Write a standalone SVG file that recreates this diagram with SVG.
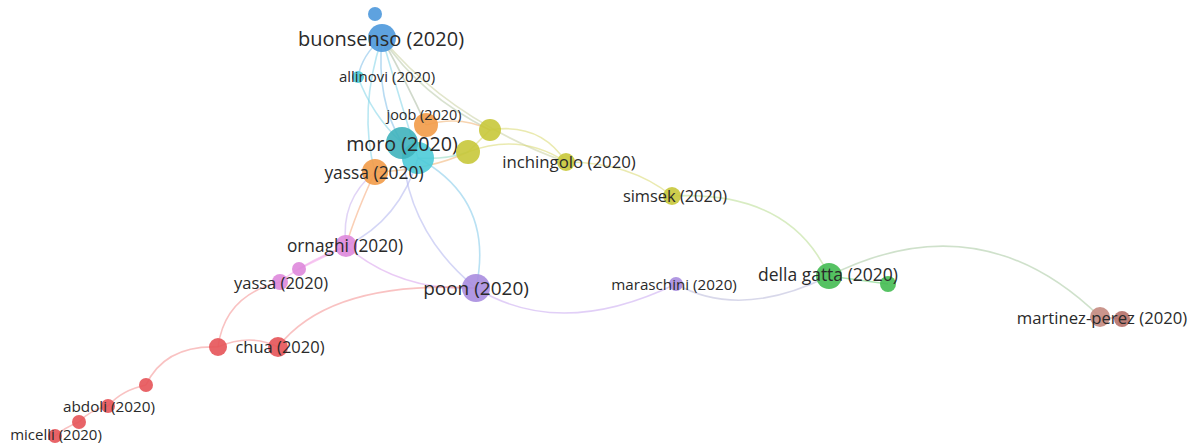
<svg xmlns="http://www.w3.org/2000/svg" width="1195" height="445" viewBox="0 0 1195 445">
<style>
  .e{fill:none;stroke-width:1.6;stroke-opacity:0.55}
  .lbl{font-family:"Open Sans","Liberation Sans",sans-serif;fill:#2a2a2a;text-anchor:middle;dominant-baseline:central}
  .n{fill-opacity:0.9}
  .blue{fill:#4d98dc}.cyan{fill:#4ccbd8}.orange{fill:#f29b48}.yellow{fill:#c8c83a}
  .pink{fill:#de88dc}.purple{fill:#a88ddf}.green{fill:#44bb52}.brown{fill:#c48a80}.red{fill:#e65358}
</style>
<rect width="1195" height="445" fill="#ffffff"/>
<g id="connectors">
  <path class="e" stroke="#7dbde8" d="M382,38 Q362,55 358,77"/>
  <path class="e" stroke="#7dbde8" d="M382,38 Q376,100 402,143"/>
  <path class="e" stroke="#7fd3e8" d="M382,38 Q400,100 418,158"/>
  <path class="e" stroke="#7fd3e8" d="M382,38 Q358,110 375,172"/>
  <path class="e" stroke="#a9b9a0" d="M382,38 Q408,85 426,125"/>
  <path class="e" stroke="#b8c8a8" d="M382,38 Q420,95 490,130"/>
  <path class="e" stroke="#c8d0a0" d="M382,38 Q450,120 566,162"/>
  <path class="e" stroke="#7fd3e8" d="M358,77 Q372,115 402,143"/>
  <path class="e" stroke="#f0b070" d="M426,125 Q460,115 490,130"/>
  <path class="e" stroke="#f0b070" d="M375,172 Q430,170 468,152"/>
  <path class="e" stroke="#8fd8c0" d="M418,158 Q445,160 468,152"/>
  <path class="e" stroke="#d8d870" d="M468,152 L490,130"/>
  <path class="e" stroke="#d8d870" d="M490,130 Q540,122 566,162"/>
  <path class="e" stroke="#d8d870" d="M468,152 Q520,132 566,162"/>
  <path class="e" stroke="#d8d870" d="M566,162 Q630,162 672,196"/>
  <path class="e" stroke="#b8dc90" d="M672,196 Q790,190 829,276"/>
  <path class="e" stroke="#7fc8ea" d="M418,158 Q495,200 476,288"/>
  <path class="e" stroke="#b0b4ee" d="M402,143 Q405,230 476,288"/>
  <path class="e" stroke="#b0b4ee" d="M418,158 Q400,220 346,246"/>
  <path class="e" stroke="#c8b0ee" d="M375,172 Q340,200 346,246"/>
  <path class="e" stroke="#f5a878" d="M375,172 Q355,215 346,246"/>
  <path class="e" stroke="#d8a0ec" d="M346,246 Q400,292 476,288"/>
  <path class="e" stroke="#c8a8f0" d="M476,288 Q560,340 676,284"/>
  <path class="e" stroke="#b8b8d8" d="M676,284 Q740,320 829,276"/>
  <path class="e" stroke="#66cc70" d="M829,276 L888,284"/>
  <path class="e" stroke="#a8c8a0" d="M829,276 Q980,200 1100,317"/>
  <path class="e" stroke="#c89890" d="M1100,317 L1122,319"/>
  <path class="e" stroke="#f0a0e8" d="M280,282 Q305,262 346,246"/>
  <path class="e" stroke="#f0a0e8" d="M299,269 L346,246"/>
  <path class="e" stroke="#f49090" d="M218,347 Q225,295 280,282"/>
  <path class="e" stroke="#f49090" d="M218,347 Q250,333 278,347"/>
  <path class="e" stroke="#f49090" d="M278,347 Q330,280 476,288"/>
  <path class="e" stroke="#f49090" d="M218,347 Q165,345 146,385"/>
  <path class="e" stroke="#f49090" d="M146,385 Q122,390 108,406"/>
  <path class="e" stroke="#f49090" d="M108,406 Q90,410 79,422"/>
  <path class="e" stroke="#f49090" d="M79,422 Q64,428 55,436"/>
</g>
<g id="n-buonsenso-small"><circle class="n blue" cx="375" cy="14" r="7"/></g>
<g id="n-buonsenso"><circle class="n blue" cx="382" cy="38" r="14"/><text class="lbl" x="381" y="38" font-size="20">buonsenso (2020)</text></g>
<g id="n-allinovi"><circle class="n cyan" cx="358" cy="77" r="6"/><text class="lbl" x="387" y="76" font-size="15">allinovi (2020)</text></g>
<g id="n-yellow1"><circle class="n yellow" cx="490" cy="130" r="11"/></g>
<g id="n-joob"><circle class="n orange" cx="426" cy="125" r="12"/><text class="lbl" x="424" y="114" font-size="14.4">joob (2020)</text></g>
<g id="n-cyan2"><circle class="n cyan" cx="418" cy="158" r="16"/></g>
<g id="n-moro"><circle class="n" fill="#3fb3bc" cx="402" cy="143" r="16"/><text class="lbl" x="402" y="143" font-size="19.7">moro (2020)</text></g>
<g id="n-yellow2"><circle class="n yellow" cx="468" cy="152" r="12"/></g>
<g id="n-yassa"><circle class="n orange" cx="375" cy="172" r="13"/><text class="lbl" x="374" y="172" font-size="17.4">yassa (2020)</text></g>
<g id="n-inchingolo"><circle class="n yellow" cx="566" cy="162" r="9"/><text class="lbl" x="569" y="161" font-size="16.8">inchingolo (2020)</text></g>
<g id="n-simsek"><circle class="n yellow" cx="672" cy="196" r="9"/><text class="lbl" x="675" y="195" font-size="16.4">simsek (2020)</text></g>
<g id="n-ornaghi"><circle class="n pink" cx="346" cy="246" r="11"/><text class="lbl" x="345" y="245" font-size="17.3">ornaghi (2020)</text></g>
<g id="n-pink-small"><circle class="n pink" cx="299" cy="269" r="7"/></g>
<g id="n-yassa2"><circle class="n pink" cx="280" cy="282" r="8"/><text class="lbl" x="281" y="282" font-size="16.5">yassa (2020)</text></g>
<g id="n-poon"><circle class="n purple" cx="476" cy="288" r="14"/><text class="lbl" x="476" y="288" font-size="19">poon (2020)</text></g>
<g id="n-maraschini"><circle class="n purple" cx="676" cy="284" r="7"/><text class="lbl" x="674" y="284" font-size="15.2">maraschini (2020)</text></g>
<g id="n-green-small"><circle class="n green" cx="888" cy="284" r="8"/></g>
<g id="n-dellagatta"><circle class="n green" cx="829" cy="276" r="13"/><text class="lbl" x="828" y="274" font-size="17.5">della gatta (2020)</text></g>
<g id="n-brown2"><circle class="n" fill="#b67068" cx="1122" cy="319" r="8"/></g>
<g id="n-martinezperez"><circle class="n brown" cx="1100" cy="317" r="10"/><text class="lbl" x="1102" y="317" font-size="16.7">martinez-perez (2020)</text></g>
<g id="n-red1"><circle class="n red" cx="218" cy="347" r="9"/></g>
<g id="n-chua"><circle class="n red" cx="278" cy="347" r="10"/><text class="lbl" x="280" y="346" font-size="16.5">chua (2020)</text></g>
<g id="n-red2"><circle class="n red" cx="146" cy="385" r="7"/></g>
<g id="n-abdoli"><circle class="n red" cx="108" cy="406" r="7"/><text class="lbl" x="109" y="406" font-size="15.3">abdoli (2020)</text></g>
<g id="n-red3"><circle class="n red" cx="79" cy="422" r="7"/></g>
<g id="n-micelli"><circle class="n red" cx="55" cy="436" r="7"/><text class="lbl" x="56" y="434" font-size="15">micelli (2020)</text></g>
</svg>
